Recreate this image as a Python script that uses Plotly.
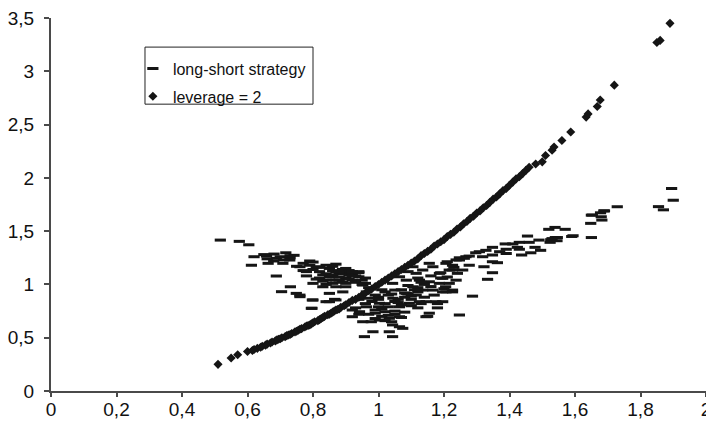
import plotly.graph_objects as go

# ---- leverage = 2 series ----
lev_x = [0.51, 0.55, 0.57, 0.60, 0.615, 0.62, 0.63, 0.64, 0.645, 0.655, 0.66, 0.67, 0.675, 0.685,
         0.69, 0.695, 0.70, 0.705, 0.715, 0.72, 0.725, 0.73, 0.735, 0.745, 0.75, 0.755, 0.76,
         0.765, 0.775, 0.78, 0.785, 0.79, 0.795, 0.80, 0.805, 0.815, 0.82, 0.825, 0.83, 0.835,
         0.845, 0.85, 0.855, 0.86, 0.865, 0.87, 0.875, 0.88, 0.885, 0.895, 0.90, 0.91, 0.92,
         0.93, 0.94, 0.95, 0.96, 0.97, 0.98, 0.99, 1.00, 1.01, 1.02, 1.03, 1.04, 1.05, 1.06,
         1.07, 1.08, 1.09, 1.10, 1.11, 1.12, 1.13, 1.14, 1.15, 1.16, 1.17, 1.18, 1.19, 1.20,
         1.21, 1.22, 1.23, 1.24, 1.25, 1.26, 1.27, 1.28, 1.29, 1.30, 1.31, 1.32, 1.33, 1.34,
         1.35, 1.36, 1.37, 1.38, 1.39, 1.40, 1.41, 1.42, 1.43, 1.44, 1.45, 1.46, 1.48, 1.50,
         1.51, 1.53, 1.536, 1.56, 1.587, 1.634, 1.64, 1.668, 1.677, 1.72, 1.85, 1.86, 1.89]
lev_y = [0.25, 0.31, 0.34, 0.37, 0.38, 0.39, 0.40, 0.41, 0.42, 0.43, 0.44, 0.45, 0.46, 0.47,
         0.48, 0.485, 0.49, 0.50, 0.51, 0.52, 0.525, 0.53, 0.54, 0.555, 0.56, 0.57, 0.58,
         0.585, 0.60, 0.61, 0.615, 0.62, 0.63, 0.64, 0.65, 0.66, 0.67, 0.68, 0.69, 0.70,
         0.715, 0.72, 0.73, 0.74, 0.75, 0.76, 0.765, 0.77, 0.785, 0.80, 0.81, 0.83, 0.85,
         0.86, 0.88, 0.90, 0.92, 0.94, 0.96, 0.98, 1.00, 1.02, 1.04, 1.06, 1.08, 1.10, 1.12,
         1.14, 1.16, 1.18, 1.20, 1.22, 1.24, 1.27, 1.29, 1.31, 1.33, 1.36, 1.38, 1.40, 1.42,
         1.45, 1.47, 1.49, 1.52, 1.54, 1.57, 1.59, 1.62, 1.64, 1.67, 1.69, 1.72, 1.74, 1.77,
         1.80, 1.82, 1.85, 1.88, 1.90, 1.93, 1.96, 1.99, 2.01, 2.04, 2.07, 2.10, 2.13, 2.15,
         2.21, 2.26, 2.29, 2.35, 2.43, 2.57, 2.60, 2.67, 2.73, 2.87, 3.27, 3.29, 3.45]

# ---- long-short strategy series ----
ls_x = [0.517, 0.575, 0.604, 0.62, 0.658, 0.681, 0.717, 0.742, 0.688, 0.612, 0.663, 0.708, 0.729,
        0.688, 0.704, 0.731, 0.749, 0.76, 0.798, 0.797, 0.84, 0.866,
        0.76, 0.77, 0.79, 0.81, 0.78, 0.82, 0.85, 0.87, 0.891, 0.91, 0.86, 0.84, 0.88, 0.92,
        0.94, 0.80, 0.83, 0.87, 0.90, 0.952, 0.85, 0.891, 0.80, 0.85, 0.87, 0.795, 0.76,
        0.83, 0.86, 0.88, 0.89, 0.90, 0.92, 0.93, 0.95, 0.96, 0.97, 0.86, 0.82, 0.78, 0.75,
        0.73, 0.70, 0.66, 0.80, 0.84, 0.87, 0.91, 0.94,
        0.93, 0.94, 0.92, 0.96, 0.94,
        0.80, 0.82, 0.84, 0.86, 0.88, 0.90, 0.92, 0.94, 0.96, 0.81, 0.83, 0.85, 0.87, 0.89,
        0.91, 0.93, 0.95, 0.84, 0.86, 0.88, 0.90, 0.92, 0.77, 0.79, 0.73, 0.71, 0.68, 0.65,
        0.963, 0.99, 1.02, 1.05, 1.085, 1.115, 1.044, 1.003, 0.963, 0.942, 0.92, 0.952, 0.978,
        1.003, 1.033, 1.043, 1.064, 1.074, 0.983, 1.033, 0.957, 1.043, 0.99, 1.02, 1.064, 1.0,
        1.094, 1.125, 1.064, 1.155, 1.145, 1.247,
        1.135, 1.166, 1.186, 1.206, 1.226, 1.247, 1.267, 1.125, 1.155, 1.186, 1.216, 1.237,
        1.166, 1.206, 1.226, 1.175, 1.196, 1.145, 1.085, 1.064, 1.043, 1.105, 1.135, 1.115,
        1.155, 1.105,
        1.00, 1.01, 1.03, 1.06, 1.08, 1.10, 1.07, 1.09, 1.12, 1.14, 1.03, 1.05, 1.08, 1.10,
        1.01, 0.97, 1.12, 1.04, 1.18, 1.20, 1.16, 1.19, 1.09, 1.12, 1.15, 1.18,
        0.98, 1.00, 1.02, 1.04, 1.06, 1.08, 1.10, 1.12, 0.99, 1.01, 1.03, 1.05, 1.07, 1.09,
        1.11, 1.13, 0.97, 0.99, 1.02, 1.05, 1.07, 1.14, 1.16, 1.17, 1.19, 1.21, 1.23, 1.13,
        1.729, 1.688, 1.678, 1.653, 1.68, 1.682, 1.648, 1.65, 1.594, 1.57, 1.539, 1.52, 1.546,
        1.526, 1.545, 1.524, 1.49, 1.455, 1.46, 1.43, 1.41, 1.387, 1.424, 1.43, 1.478, 1.495,
        1.465, 1.437, 1.39, 1.39, 1.348, 1.328, 1.308, 1.37, 1.348, 1.318, 1.297, 1.277,
        1.262, 1.247, 1.237, 1.21, 1.348, 1.363, 1.322, 1.348, 1.333, 1.287, 1.277, 1.257,
        1.226, 1.241, 1.216, 1.196, 1.205, 1.196, 1.226,
        1.895, 1.90, 1.855, 1.87, 1.69, 1.65, 1.59, 1.54, 1.53]
ls_y = [1.416, 1.404, 1.372, 1.26, 1.266, 1.285, 1.297, 1.273, 1.245, 1.18, 1.198, 1.198, 1.229,
        1.079, 0.932, 0.978, 0.916, 0.885, 0.854, 0.776, 0.838, 0.86,
        1.166, 1.198, 1.18, 1.166, 1.12, 1.12, 1.15, 1.12, 1.104, 1.088, 1.072, 1.04, 1.04, 1.04,
        1.072, 1.01, 0.978, 0.978, 0.978, 0.994, 0.916, 0.93, 0.854, 0.838, 0.854, 0.776, 0.90,
        1.09, 1.13, 1.10, 1.14, 1.06, 1.10, 1.02, 1.04, 1.01, 0.97, 1.01, 1.06, 1.08, 1.17,
        1.25, 1.26, 1.24, 1.21, 1.18, 1.19, 1.13, 1.12,
        0.78, 0.72, 0.76, 0.82, 0.86,
        1.14, 1.16, 1.10, 1.17, 1.12, 1.15, 1.08, 1.11, 1.06, 1.05, 1.03, 1.07, 1.04, 1.02,
        1.05, 1.08, 1.00, 1.00, 1.09, 1.07, 1.01, 1.12, 1.13, 1.22, 1.27, 1.23, 1.22, 1.28,
        0.93, 0.90, 0.93, 0.947, 0.916, 0.90, 0.87, 0.823, 0.79, 0.744, 0.697, 0.65, 0.65,
        0.666, 0.682, 0.62, 0.603, 0.588, 0.556, 0.556, 0.51, 0.51, 0.73, 0.744, 0.79, 0.79,
        0.823, 0.838, 0.697, 0.73, 0.697, 0.713,
        1.135, 1.166, 1.104, 1.198, 1.135, 1.229, 1.26, 1.04, 1.025, 1.01, 1.01, 1.04,
        0.947, 0.93, 0.93, 0.838, 0.838, 0.838, 1.04, 1.072, 1.01, 0.978, 0.947, 1.104,
        1.198, 1.166,
        0.88, 0.95, 0.90, 0.86, 0.88, 0.86, 0.95, 0.99, 0.97, 0.88, 0.79, 0.75, 0.74, 0.80,
        0.70, 0.72, 0.78, 0.65, 0.78, 0.96, 1.08, 1.06, 1.12, 1.06, 0.70, 0.82,
        0.84, 0.86, 0.82, 0.91, 0.83, 0.92, 0.89, 0.93, 0.76, 0.77, 0.71, 0.84, 0.69, 0.91,
        0.95, 0.82, 0.87, 0.68, 0.66, 0.72, 0.81, 1.00, 0.98, 0.90, 1.11, 1.07, 1.16, 1.02,
        1.729, 1.69, 1.672, 1.651, 1.635, 1.604, 1.573, 1.44, 1.457, 1.517, 1.535, 1.517, 1.44,
        1.42, 1.41, 1.395, 1.416, 1.454, 1.395, 1.395, 1.38, 1.38, 1.348, 1.33, 1.348, 1.32,
        1.297, 1.276, 1.33, 1.29, 1.348, 1.32, 1.307, 1.307, 1.276, 1.26, 1.297, 1.266,
        1.245, 1.25, 1.23, 1.213, 1.213, 1.204, 1.166, 1.11, 1.048, 0.89, 1.18, 1.135,
        1.18, 1.104, 1.135, 1.057, 0.978, 0.93, 0.947,
        1.90, 1.79, 1.73, 1.70, 1.69, 1.65, 1.45, 1.44, 1.43]

x_ticks = [0, 0.2, 0.4, 0.6, 0.8, 1, 1.2, 1.4, 1.6, 1.8, 2]
x_tick_text = ["0", "0,2", "0,4", "0,6", "0,8", "1", "1,2", "1,4", "1,6", "1,8", "2"]
y_ticks = [0, 0.5, 1, 1.5, 2, 2.5, 3, 3.5]
y_tick_text = ["0", "0,5", "1", "1,5", "2", "2,5", "3", "3,5"]

ink = "#151515"
axis_col = "#4a4a4a"
font_family = "Liberation Sans, Arial, Helvetica, sans-serif"

fig = go.Figure()
fig.add_trace(go.Scatter(
    x=ls_x, y=ls_y, mode="markers", name="long-short strategy", legendgroup="a",
    marker=dict(symbol="line-ew", size=8, color=ink, line=dict(width=3, color=ink)),
))
fig.add_trace(go.Scatter(
    x=lev_x, y=lev_y, mode="markers", name="leverage = 2", legendgroup="b",
    marker=dict(symbol="diamond", size=7, color=ink, line=dict(width=0)),
))

fig.update_layout(
    width=706, height=422,
    margin=dict(l=51, r=0, t=18, b=31, pad=0, autoexpand=False),
    paper_bgcolor="white", plot_bgcolor="white",
    font=dict(family=font_family, size=18, color="#111"),
    showlegend=True,
    legend=dict(
        x=0.125, y=0.91, xanchor="left", yanchor="top",
        borderwidth=0, bgcolor="rgba(0,0,0,0)",
        font=dict(size=16, color="#111"),
        itemwidth=30, tracegroupgap=4,
    ),
    shapes=[dict(type="rect", xref="paper", yref="paper",
                 x0=0.1435, x1=0.40, y0=0.769, y1=0.922,
                 line=dict(color="#222", width=1), fillcolor="rgba(0,0,0,0)", layer="above")],
    xaxis=dict(
        range=[0, 2], tickvals=x_ticks, ticktext=x_tick_text, automargin=False,
        showgrid=False, zeroline=False, showline=True, linecolor=axis_col, linewidth=2,
        ticks="outside", ticklen=4, tickcolor=axis_col, tickwidth=1.5,
        tickfont=dict(size=19, color="#111"), ticklabeloverflow="allow",
        ticklabelstandoff=-4,
    ),
    yaxis=dict(
        range=[0, 3.5], tickvals=y_ticks, ticktext=y_tick_text, automargin=False,
        showgrid=False, zeroline=False, showline=True, linecolor=axis_col, linewidth=2,
        ticks="outside", ticklen=5, tickcolor=axis_col, tickwidth=1.5,
        tickfont=dict(size=19, color="#111"), ticklabelstandoff=6,
    ),
)

fig.write_html("out.html", config={"displayModeBar": False},
               post_script="document.body.style.margin='0px';")
